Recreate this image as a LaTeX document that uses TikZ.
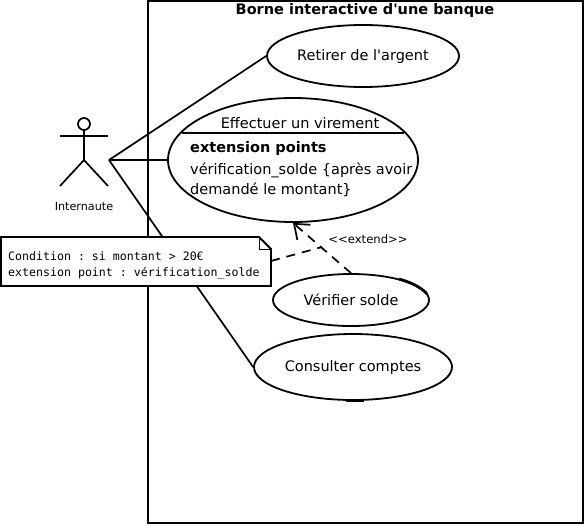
\documentclass[tikz,border=0pt]{standalone}
\usepackage{fontspec}
\setmainfont[Ligatures=TeXOff]{DejaVu Sans}
\setmonofont{DejaVu Sans Mono}
\usetikzlibrary{shapes.geometric,arrows.meta}
\tikzset{
  usecase/.style={draw,ellipse,line width=1.8pt,inner sep=0pt,font=\fontsize{14.5}{16}\selectfont},
  assoc/.style={line width=1.7pt},
  stick/.style={line width=1.7pt},
  texte/.style={anchor=base west,inner sep=0pt,font=\fontsize{14.5}{16}\selectfont},
  notetexte/.style={anchor=base west,inner sep=0pt,font=\ttfamily\fontsize{11.6}{13}\selectfont}
}
\begin{document}
\begin{tikzpicture}[x=1pt,y=-1pt]
\useasboundingbox (0,0) rectangle (585,525);
\draw[line width=1.8pt] (148,1) -- (583,1) -- (583,523) -- (148,523) -- cycle;
\node[font=\bfseries\fontsize{14.5}{16}\selectfont,inner sep=0pt] (titre) at (365,10) {Borne interactive d'une banque};
% cas d'utilisation
\node[usecase,minimum width=192pt,minimum height=62pt] (retirer) at (363,56) {\raisebox{-1pt}{Retirer de l'argent}};
\node[usecase,minimum width=250pt,minimum height=124pt] (virement) at (293,160) {};
\node[usecase,minimum width=156pt,minimum height=52pt] (verifier) at (351,300) {\raisebox{1pt}{Vérifier solde}};
\node[usecase,minimum width=198pt,minimum height=66pt] (consulter) at (353,367) {Consulter comptes};
\node[font=\fontsize{14.5}{16}\selectfont] (nomvirement) at (300,123) {Effectuer un virement};
\coordinate (sepg) at (182,133);
\coordinate (sepd) at (404,133);
\draw[line width=1.7pt] (sepg) -- (sepd);
\node[texte,font=\bfseries\fontsize{14.5}{16}\selectfont] (extpoints) at (190,152) {extension points};
\node[texte] (verifext) at (190,174) {vérification\_solde \{après avoir};
\node[texte] (verifext2) at (190,194) {demandé le montant\}};
% traits plus epais
\draw[line width=2.8pt] (399,279) .. controls (410,282) and (421,287) .. (427,294);
\draw[line width=2.8pt] (346,400.5) -- (364,400.5);
% acteur
\coordinate (tete) at (84,130);
\coordinate (bassin) at (84,160);
\coordinate (brasg) at (60,136);
\coordinate (brasd) at (108,136);
\coordinate (piedg) at (60,186);
\coordinate (piedd) at (108,186);
\coordinate (acteur) at (109,160);
\draw[stick] (84,124) circle (6pt);
\draw[stick] (tete) -- (bassin);
\draw[stick] (brasg) -- (brasd);
\draw[stick] (piedg) -- (bassin) -- (piedd);
\node[font=\fontsize{11.2}{13}\selectfont] (internaute) at (84,206) {Internaute};
% associations
\foreach \cas in {retirer,virement,consulter}
\draw[assoc] (acteur) -- (\cas.west);
% extend
\coordinate (coude) at (322,247);
\draw[line width=1.7pt,dash pattern=on 9pt off 7pt,-{Straight Barb[length=13pt,width=20pt]}] (verifier.north) -- (virement.south);
\node[font=\fontsize{11.6}{13}\selectfont,inner sep=0pt] (extend) at (368,239) {<<extend>>};
% note
\draw[line width=1.8pt,fill=white] (1,237) -- (259,237) -- (271,249) -- (271,286) -- (1,286) -- cycle;
\draw[line width=1pt] (259,237) -- (259,249) -- (271,249);
\node[notetexte] (condition) at (8,260) {Condition : si montant > 20€};
\node[notetexte] (point) at (8,276) {extension point : vérification\_solde};
\coordinate (noteb) at (271,261);
\draw[line width=1.7pt,dash pattern=on 9pt off 7pt] (noteb) -- (coude);
\end{tikzpicture}
\end{document}
